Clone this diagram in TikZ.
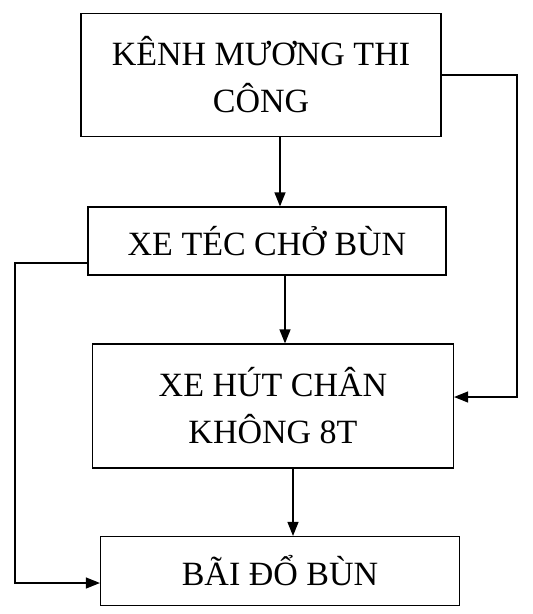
\documentclass[tikz,border=0pt]{standalone}
\usepackage{fontspec}
\setmainfont{Liberation Serif}
\usetikzlibrary{arrows.meta}
\begin{document}
\begin{tikzpicture}[x=1pt,y=-1pt,
  box/.style={draw,line width=1.2pt,minimum width=#1,align=center,inner sep=0pt,
    font=\fontsize{34}{47}\selectfont},
  arr/.style={line width=1.2pt,-{Triangle[length=14pt,width=11pt]}}]
\useasboundingbox (0,0) rectangle (533,614);
\node[box=360pt,minimum height=123pt] (b1) at (261,75) {KÊNH MƯƠNG THI\\CÔNG};
\node[box=358pt,minimum height=68pt] (b2) at (267,241) {XE TÉC CHỞ BÙN};
\node[box=361pt,minimum height=124pt] (b3) at (273,406) {XE HÚT CHÂN\\KHÔNG 8T};
\node[box=359pt,minimum height=69pt] (b4) at (280,571) {BÃI ĐỔ BÙN};
\coordinate (a1) at (280,0);
\coordinate (a2) at (285,0);
\coordinate (a3) at (293,0);
\coordinate (r) at (517,0);
\coordinate (l) at (15,0);
\coordinate (e3) at ([yshift=9pt]b3.east);
\coordinate (w2) at ([yshift=-22pt]b2.west);
\coordinate (w4) at ([yshift=-12pt]b4.west);
\draw[arr] (b1.south -| a1) -- (b2.north -| a1);
\draw[arr] (b2.south -| a2) -- (b3.north -| a2);
\draw[arr] (b3.south -| a3) -- (b4.north -| a3);
\draw[arr] (b1.east) -- (b1.east -| r) -- (r |- e3) -- (e3);
\draw[arr] (w2) -- (l |- w2) -- (l |- w4) -- (w4);
\end{tikzpicture}
\end{document}
